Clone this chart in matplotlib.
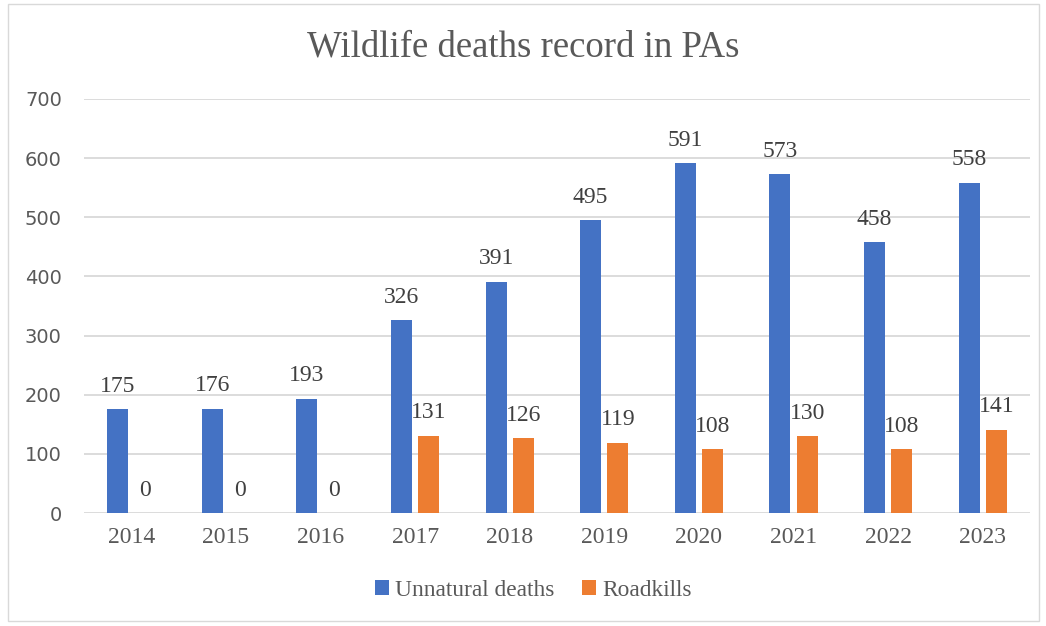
import matplotlib.pyplot as plt
import numpy as np
from matplotlib.patches import Rectangle

years = ["2014", "2015", "2016", "2017", "2018", "2019", "2020", "2021", "2022", "2023"]
unnatural = [175, 176, 193, 326, 391, 495, 591, 573, 458, 558]
roadkills = [0, 0, 0, 131, 126, 119, 108, 130, 108, 141]
y_ticks = [0, 100, 200, 300, 400, 500, 600, 700]

blue = "#4472C4"
orange = "#ED7D31"
serif = "Liberation Serif"

fig = plt.figure(figsize=(10.46, 6.26), dpi=100)
ax = fig.add_axes([0.0803, 0.1805, 0.9044, 0.6614])

x = np.arange(len(years))
w = 0.223
off = 0.144
b1 = ax.bar(x - off, unnatural, w, color=blue, label="Unnatural deaths", zorder=3)
b2 = ax.bar(x + off, roadkills, w, color=orange, label="Roadkills", zorder=3)

for bars in (b1, b2):
    for rect in bars:
        h = rect.get_height()
        ax.annotate(f"{int(h)}", (rect.get_x() + rect.get_width() / 2, h),
                    xytext=(0, 9), textcoords="offset points", ha="center", va="bottom",
                    fontsize=17, family=serif, color="#404040")

ax.set_xlim(-0.5, len(years) - 0.5)
ax.set_ylim(0, 700)
ax.set_yticks(y_ticks)
ax.set_xticks(x)
ax.set_xticklabels(years, fontsize=17, family=serif, color="#595959")
ax.tick_params(axis="y", labelsize=14, colors="#595959", length=0, pad=16)
ax.tick_params(axis="x", length=0, pad=10)
ax.grid(axis="y", color="#D9D9D9", linewidth=1.3, zorder=0)
for s in ax.spines.values():
    s.set_visible(False)

fig.suptitle("Wildlife deaths record in PAs", y=0.952, fontsize=26.5, family=serif, color="#595959")

fig.legend(handles=[b1, b2], loc="center", bbox_to_anchor=(0.51, 0.057), ncol=2, frameon=False,
           prop={"family": serif, "size": 16.8}, labelcolor="#595959", handlelength=0.6,
           handleheight=0.6, handletextpad=0.25, columnspacing=1.2)

fig.patches.append(Rectangle((0.008, 0.008), 0.985, 0.985, transform=fig.transFigure,
                             fill=False, edgecolor="#D9D9D9", linewidth=1))

fig.savefig("out.png", dpi=100)
